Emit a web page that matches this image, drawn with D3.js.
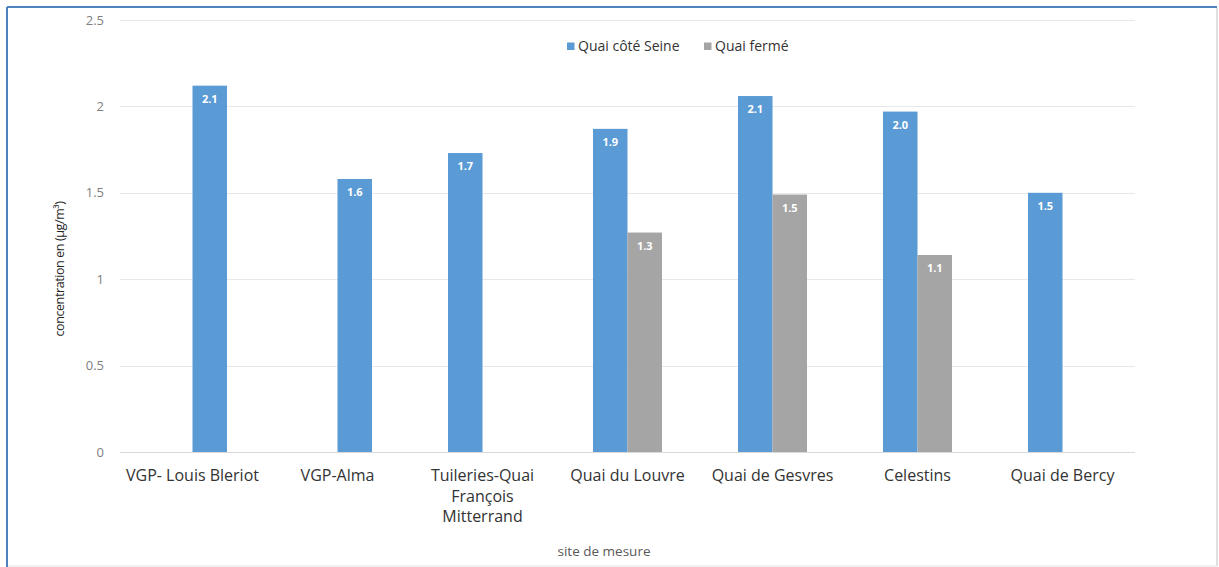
<!DOCTYPE html>
<html>
<head>
<meta charset="utf-8">
<script src="https://cdn.jsdelivr.net/npm/d3@7"></script>
<style>
  html, body { margin: 0; padding: 0; background: #fff; }
  svg { display: block; }
</style>
</head>
<body>
<svg id="chart" width="1219" height="567"></svg>
<script>
// Measurement sites along the Seine
const categories = [
  "VGP- Louis Bleriot",
  "VGP-Alma",
  "Tuileries-Quai François Mitterrand",
  "Quai du Louvre",
  "Quai de Gesvres",
  "Celestins",
  "Quai de Bercy"
];
// Concentrations (µg/m³)
const quaiCoteSeine = [2.12, 1.58, 1.73, 1.87, 2.06, 1.97, 1.50];
const quaiFerme     = [null, null, null, 1.27, 1.49, 1.14, null];
const seriesNames   = ["Quai côté Seine", "Quai fermé"];
const yTicks        = [0, 0.5, 1, 1.5, 2, 2.5];
const yTitle        = "concentration en (µg/m³)";
const xTitle        = "site de mesure";

const svg = d3.select("#chart");
const W = 1219, H = 567;
const margin = { left: 120, right: 84, top: 20, bottom: 115 };
const plotW = W - margin.left - margin.right;
const plotH = H - margin.top - margin.bottom;
const FONT = "'Open Sans', sans-serif";

const colors = d3.scaleOrdinal().domain(seriesNames).range(["#5B9BD5", "#A5A5A5"]);

// Frame around the chart
svg.append("line").attr("x1", 7).attr("x2", 7).attr("y1", 7).attr("y2", H)
  .attr("stroke", "#4F81BD").attr("stroke-width", 2);
svg.append("line").attr("x1", 7).attr("x2", 1217).attr("y1", 7).attr("y2", 7)
  .attr("stroke", "#4F81BD").attr("stroke-width", 2);
svg.append("line").attr("x1", 1217).attr("x2", 1217).attr("y1", 8).attr("y2", 566)
  .attr("stroke", "#D6D6D6").attr("stroke-width", 1.5);
svg.append("line").attr("x1", 8).attr("x2", 1217).attr("y1", 566).attr("y2", 566)
  .attr("stroke", "#E2E2E2").attr("stroke-width", 1);

const g = svg.append("g").attr("transform", `translate(${margin.left},${margin.top})`);

const x0 = d3.scaleBand().domain(categories).range([0, plotW]).paddingInner(0).paddingOuter(0);
const groupW = 69;
const x1 = d3.scaleBand().domain(seriesNames).range([-groupW / 2, groupW / 2]).padding(0);
const y = d3.scaleLinear().domain([0, 2.5]).range([plotH, 0]);

// Gridlines
g.append("g")
  .selectAll("line")
  .data(yTicks)
  .join("line")
  .attr("x1", 0).attr("x2", plotW)
  .attr("y1", d => Math.round(y(d)) + 0.5).attr("y2", d => Math.round(y(d)) + 0.5)
  .attr("stroke", d => d === 0 ? "#D9D9D9" : "#E8E8E8")
  .attr("stroke-width", 1.2);

// Y axis tick labels
const yAxis = d3.axisLeft(y).tickValues(yTicks).tickSize(0).tickPadding(16)
  .tickFormat(d3.format("~g"));
g.append("g").call(yAxis)
  .call(s => s.select(".domain").remove())
  .selectAll("text")
  .attr("font-family", FONT)
  .attr("font-size", 13)
  .attr("fill", "#7F7F7F");

// Bar records: the VGP sites carry their single value in the second slot
const bars = [];
categories.forEach((c, i) => {
  const vgp = c.startsWith("VGP");
  if (quaiCoteSeine[i] != null) {
    bars.push({ cat: c, series: seriesNames[0], value: quaiCoteSeine[i],
                slot: vgp ? seriesNames[1] : seriesNames[0] });
  }
  if (quaiFerme[i] != null) {
    bars.push({ cat: c, series: seriesNames[1], value: quaiFerme[i], slot: seriesNames[1] });
  }
});

const xCenter = c => x0(c) + x0.bandwidth() / 2;

g.append("g")
  .selectAll("rect")
  .data(bars)
  .join("rect")
  .attr("x", d => xCenter(d.cat) + x1(d.slot))
  .attr("width", x1.bandwidth())
  .attr("y", d => y(d.value))
  .attr("height", d => y(0) - y(d.value))
  .attr("fill", d => colors(d.series));

// Value labels inside the top of each bar
g.append("g")
  .selectAll("text")
  .data(bars)
  .join("text")
  .attr("x", d => xCenter(d.cat) + x1(d.slot) + x1.bandwidth() / 2)
  .attr("y", d => y(d.value) + 17)
  .attr("text-anchor", "middle")
  .attr("font-family", FONT)
  .attr("font-weight", "bold")
  .attr("font-size", 11)
  .attr("fill", "#FFFFFF")
  .text(d => d3.format(".1f")(d.value));

// Category labels, wrapped to fit under each group
function wrapLines(text, maxW, ctx) {
  const words = text.split(" ");
  const lines = [];
  let cur = "";
  words.forEach(w => {
    const t = cur ? cur + " " + w : w;
    if (ctx.measureText(t).width > maxW && cur) { lines.push(cur); cur = w; }
    else cur = t;
  });
  if (cur) lines.push(cur);
  return lines;
}
const LABEL_SIZE = 16;
const canvas = document.createElement("canvas");
const ctx = canvas.getContext("2d");
ctx.font = `${LABEL_SIZE}px 'Open Sans'`;

const xLab = g.append("g");
categories.forEach(c => {
  const lines = wrapLines(c, x0.bandwidth() - 5, ctx);
  const t = xLab.append("text")
    .attr("x", xCenter(c))
    .attr("y", plotH + 29)
    .attr("text-anchor", "middle")
    .attr("font-family", FONT)
    .attr("font-size", LABEL_SIZE)
    .attr("fill", "#333333");
  lines.forEach((ln, k) => {
    t.append("tspan").attr("x", xCenter(c)).attr("dy", k === 0 ? 0 : 20.5).text(ln);
  });
});

// Axis titles
svg.append("text")
  .attr("x", 604)
  .attr("y", 556)
  .attr("text-anchor", "middle")
  .attr("font-family", FONT)
  .attr("font-size", 13.5)
  .attr("fill", "#595959")
  .text(xTitle);

svg.append("text")
  .attr("transform", `translate(64,269) rotate(-90)`)
  .attr("text-anchor", "middle")
  .attr("font-family", FONT)
  .attr("font-size", 12.5)
  .attr("letter-spacing", -0.4)
  .attr("fill", "#262626")
  .text(yTitle);

// Legend
const legend = svg.append("g").attr("transform", "translate(567,46)");
const legendX = [0, 137];
seriesNames.forEach((s, i) => {
  const lg = legend.append("g").attr("transform", `translate(${legendX[i]},0)`);
  lg.append("rect").attr("x", 0).attr("y", -3.5).attr("width", 7.5).attr("height", 7.5)
    .attr("fill", colors(s));
  lg.append("text").attr("x", 11).attr("y", 0).attr("dy", "0.35em")
    .attr("font-family", FONT)
    .attr("font-size", 14)
    .attr("fill", "#333333")
    .text(s);
});
</script>
</body>
</html>
